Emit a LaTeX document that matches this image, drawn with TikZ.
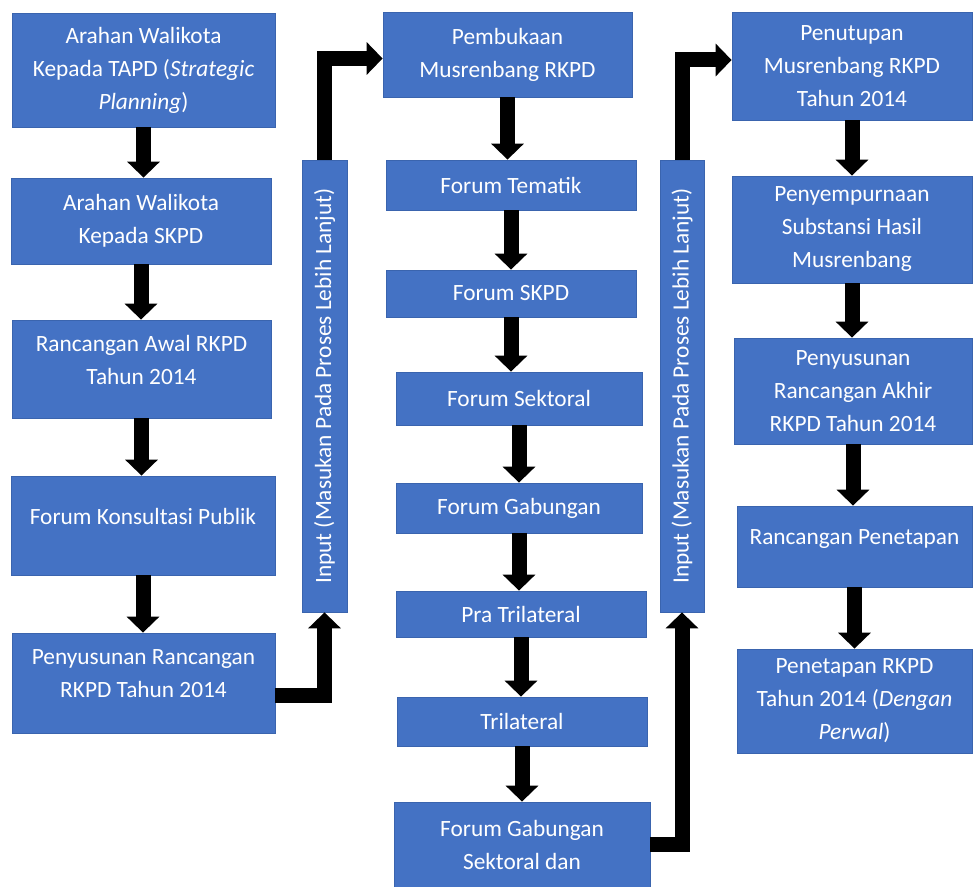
\documentclass[tikz,border=0pt]{standalone}
\usepackage{fontspec}
\setmainfont{Carlito}
\usepackage{xcolor}
\usepackage{tikz}
\usetikzlibrary{arrows.meta, positioning, calc}
\definecolor{boxblue}{HTML}{4472C4}
\definecolor{boxedge}{HTML}{3A64AE}

\begin{document}
\begin{tikzpicture}[
    x=0.75pt, y=-0.75pt,
    box/.style={rectangle, draw=boxedge, line width=0.6pt, fill=boxblue, text=white, align=center, inner sep=2pt, font=\fontsize{17.5}{24.75}\selectfont},
    bar/.style={box, rotate=90, minimum width=339pt},
    flow/.style={line width=11.25pt, line join=miter, -{Triangle[width=24pt, length=12pt]}},
]
\useasboundingbox (0,0) rectangle (973,887);
\fill[white] (0,0) rectangle (973,887);

% first column
\node[box, minimum width=197.25pt, minimum height=85.5pt] (walitapd) at (143.5,70) {Arahan Walikota\\Kepada TAPD (\textit{Strategic}\\\textit{Planning})};
\node[box, minimum width=195pt, minimum height=64.5pt] (waliskpd) at (141,221) {Arahan Walikota\\Kepada SKPD};
\node[box, minimum width=194.25pt, minimum height=73.5pt, text depth=14pt] (awal) at (141.5,369) {Rancangan Awal RKPD\\Tahun 2014};
\node[box, minimum width=198pt, minimum height=74.25pt, text depth=14pt] (publik) at (143,525.5) {Forum Konsultasi Publik};
\node[box, minimum width=197.25pt, minimum height=75pt, text depth=14pt] (susun) at (143.5,683) {Penyusunan Rancangan\\RKPD Tahun 2014};

\node[bar, minimum height=33.75pt] (inputa) at (324.5,386) {Input (Masukan Pada Proses Lebih Lanjut)};

% second column
\node[box, minimum width=186.75pt, minimum height=63.75pt] (buka) at (507.5,54.5) {Pembukaan\\Musrenbang RKPD};
\node[box, minimum width=187.5pt, minimum height=37.5pt] (tematik) at (511,185) {Forum Tematik};
\node[box, minimum width=187.5pt, minimum height=35.25pt] (fskpd) at (511,293.5) {Forum SKPD};
\node[box, minimum width=184.5pt, minimum height=39.75pt] (sektoral) at (519,398.5) {Forum Sektoral};
\node[box, minimum width=184.5pt, minimum height=37.5pt] (gabung) at (519,508) {Forum Gabungan};
\node[box, minimum width=187.5pt, minimum height=34.5pt] (pratri) at (521,614) {Pra Trilateral};
\node[box, minimum width=187.5pt, minimum height=36.75pt] (tri) at (522,721.5) {Trilateral};
\node[box, minimum width=192pt, minimum height=63.75pt] (gabsek) at (522,844.5) {Forum Gabungan\\Sektoral dan};

\node[bar, minimum height=33pt] (inputb) at (682,386) {Input (Masukan Pada Proses Lebih Lanjut)};

% third column
\node[box, minimum width=180pt, minimum height=81pt] (tutup) at (852,66) {Penutupan\\Musrenbang RKPD\\Tahun 2014};
\node[box, minimum width=180pt, minimum height=80.25pt] (sempurna) at (852,229.5) {Penyempurnaan\\Substansi Hasil\\Musrenbang};
\node[box, minimum width=178.5pt, minimum height=79.5pt] (akhir) at (853,391) {Penyusunan\\Rancangan Akhir\\RKPD Tahun 2014};
\node[box, minimum width=176.25pt, minimum height=60.75pt, text depth=14pt] (rtetap) at (854.5,546.5) {Rancangan Penetapan};
\node[box, minimum width=176.25pt, minimum height=78pt] (tetap) at (854.5,701) {Penetapan RKPD\\Tahun 2014 (\textit{Dengan}\\\textit{Perwal})};

% arrows down the columns
\draw[flow] (walitapd.south) -- (walitapd.south |- waliskpd.north);
\draw[flow] (waliskpd.south) -- (waliskpd.south |- awal.north);
\draw[flow] (awal.south) -- (awal.south |- publik.north);
\draw[flow] (publik.south) -- (publik.south |- susun.north);

\draw[flow] (buka.south) -- (buka.south |- tematik.north);
\draw[flow] (tematik.south) -- (tematik.south |- fskpd.north);
\draw[flow] (fskpd.south) -- (fskpd.south |- sektoral.north);
\draw[flow] (sektoral.south) -- (sektoral.south |- gabung.north);
\draw[flow] (gabung.south) -- (gabung.south |- pratri.north);
\draw[flow] (pratri.south) -- (pratri.south |- tri.north);
\draw[flow] (tri.south) -- (tri.south |- gabsek.north);

\draw[flow] (tutup.south) -- (tutup.south |- sempurna.north);
\draw[flow] (sempurna.south) -- (sempurna.south |- akhir.north);
\draw[flow] (akhir.south) -- (akhir.south |- rtetap.north);
\draw[flow] (rtetap.south) -- (rtetap.south |- tetap.north);

% elbow connectors through the input bars
\draw[flow] ([yshift=-9pt]susun.east) -| (inputa.west);
\draw[flow] (inputa.east) |- ([yshift=-3pt]buka.west);
\draw[flow] (gabsek.east) -| (inputb.west);
\draw[flow] (inputb.east) |- ([yshift=4.5pt]tutup.west);
\end{tikzpicture}
\end{document}
